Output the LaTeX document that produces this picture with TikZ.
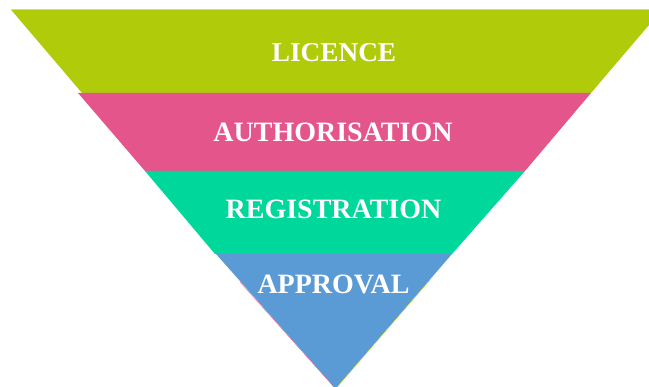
\documentclass[tikz,border=0pt]{standalone}
\usepackage{fontspec}
\setmainfont{Liberation Serif}
\definecolor{limeC}{HTML}{B0CB09}
\definecolor{pinkC}{HTML}{E4568B}
\definecolor{greenC}{HTML}{00D79B}
\definecolor{blueC}{HTML}{5B9BD5}
\tikzset{
  band/.style={draw=none},
  lbl/.style={text=white,font=\bfseries\fontsize{28}{30}\selectfont,inner sep=0pt,anchor=base}
}
\begin{document}
\begin{tikzpicture}[x=1pt,y=-1pt]
\useasboundingbox (0,0) rectangle (649,387);
\fill[gray!25] (11,9) rectangle (649,10);
\fill[band,fill=limeC] (11,9.7) -- (649,9.7) -- (649,25) -- (591,93) -- (82,93) -- cycle;
\fill[band,fill=pinkC] (78,93) -- (591,93) -- (525,171) -- (145,171) -- cycle;
\fill[band,fill=blueC] (216,254) -- (452,254) -- (337,387) -- (334,387) -- cycle;
\draw[pinkC,line width=0.35pt] (240,282) -- (334,387);
\draw[limeC,line width=0.35pt] (430,280) -- (337,387);
\fill[band,fill=greenC] (145,171) -- (525,171) -- (452,254) -- (215,254) -- cycle;
\node[lbl,font=\bfseries\fontsize{27.3}{30}\selectfont] (licence) at (334,61.5) {LICENCE};
\node[lbl] (auth) at (333,141.5) {AUTHORISATION};
\node[lbl] (reg) at (333.5,218.5) {REGISTRATION};
\node[lbl] (appr) at (333.5,294) {APPROVAL};
\end{tikzpicture}
\end{document}
